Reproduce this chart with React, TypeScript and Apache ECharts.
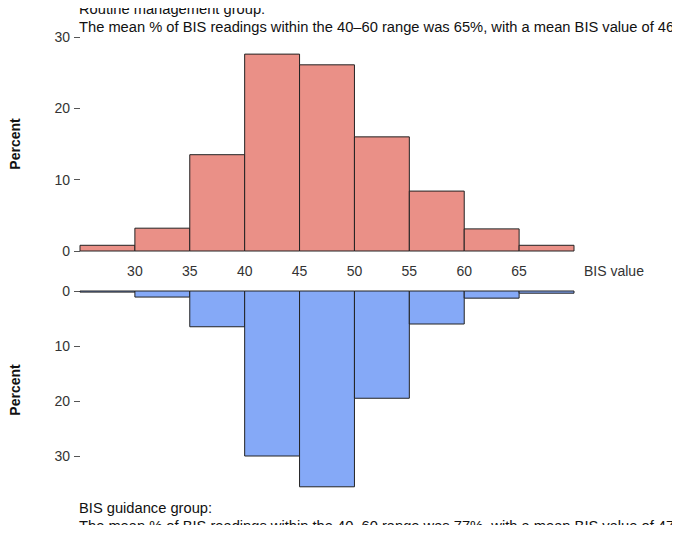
import React, { useEffect, useRef } from "react";
import * as echarts from "echarts";

const binStarts = [25, 30, 35, 40, 45, 50, 55, 60, 65];
const binWidth = 5;
const routineValues = [0.8, 3.2, 13.5, 27.6, 26.1, 16.0, 8.4, 3.1, 0.8];
const guidanceValues = [0.2, 1.1, 6.5, 30.0, 35.6, 19.5, 6.0, 1.3, 0.4];
const topTicks = [0, 10, 20, 30];

const font = "Liberation Sans, Arial, sans-serif";

const histItem = (params: any, api: any) => {
  const s = api.value(0);
  const e = api.value(1);
  const v = api.value(2);
  const p0 = api.coord([s, 0]);
  const p1 = api.coord([e, v]);
  return {
    type: "rect",
    shape: {
      x: p0[0],
      y: Math.min(p0[1], p1[1]),
      width: p1[0] - p0[0],
      height: Math.abs(p1[1] - p0[1]),
    },
    style: api.style(),
  };
};

const App = () => {
  const ref = useRef<HTMLDivElement>(null);
  useEffect(() => {
    const chart = echarts.init(ref.current, null, { renderer: "svg" });
    const yAxisCommon = {
      type: "value",
      min: 0,
      interval: 10,
      axisLine: { show: false },
      axisTick: { show: true, length: 6, lineStyle: { color: "#555" } },
      splitLine: { show: false },
      axisLabel: { color: "#333", fontSize: 14, fontFamily: font, margin: 10 },
      name: "Percent",
      nameLocation: "middle",
      nameGap: 58,
      nameTextStyle: { fontWeight: "bold", fontSize: 14, color: "#111", fontFamily: font },
    };
    const titleStyle = { fontSize: 14.7, fontWeight: "normal", color: "#111", fontFamily: font, lineHeight: 18 };
    chart.setOption({
      animation: false,
      backgroundColor: "#fff",
      title: [
        {
          text: "Routine management group:\nThe mean % of BIS readings within the 40–60 range was 65%, with a mean BIS value of 46",
          left: 74,
          top: -5,
          textStyle: titleStyle,
        },
        {
          text: "BIS guidance group:\nThe mean % of BIS readings within the 40–60 range was 77%, with a mean BIS value of 47",
          left: 74,
          top: 494,
          textStyle: titleStyle,
        },
      ],
      grid: [
        { left: 79, right: 106, top: 37, height: 214 },
        { left: 79, right: 106, top: 291, height: 198 },
      ],
      xAxis: [
        {
          type: "value",
          gridIndex: 0,
          min: 25,
          max: 70,
          interval: 5,
          axisLine: { show: false },
          axisTick: { show: false },
          splitLine: { show: false },
          axisLabel: {
            color: "#333",
            fontSize: 14,
            fontFamily: font,
            margin: 13,
            formatter: (v: number) => (v === 25 || v === 70 ? "" : String(v)),
          },
          name: "BIS value",
          nameLocation: "end",
          nameGap: 10,
          nameTextStyle: { color: "#333", fontSize: 14, fontFamily: font, verticalAlign: "top", padding: [13, 0, 0, 0] },
        },
        {
          type: "value",
          gridIndex: 1,
          min: 25,
          max: 70,
          interval: 5,
          show: false,
        },
      ],
      yAxis: [
        { ...yAxisCommon, gridIndex: 0, max: topTicks[topTicks.length - 1] },
        { ...yAxisCommon, gridIndex: 1, max: 36, inverse: true, axisLabel: { ...yAxisCommon.axisLabel, formatter: (v: number) => (v > 30 ? "" : String(v)) }, axisTick: { ...yAxisCommon.axisTick, customValues: [0, 10, 20, 30] } },
      ],
      series: [
        {
          type: "custom",
          xAxisIndex: 0,
          yAxisIndex: 0,
          renderItem: histItem,
          itemStyle: { color: "#EA9087", borderColor: "#222", borderWidth: 1 },
          data: binStarts.map((s, i) => [s, s + binWidth, routineValues[i]]),
        },
        {
          type: "custom",
          xAxisIndex: 1,
          yAxisIndex: 1,
          renderItem: histItem,
          itemStyle: { color: "#85A9F7", borderColor: "#222", borderWidth: 1 },
          data: binStarts.map((s, i) => [s, s + binWidth, guidanceValues[i]]),
        },
      ],
    });
    return () => chart.dispose();
  }, []);
  return <div ref={ref} style={{ width: 680, height: 533, margin: -8 }} />;
};

export default App;
